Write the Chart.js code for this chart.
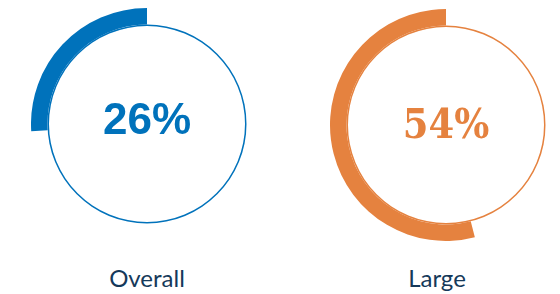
<!DOCTYPE html>
<html>
<head>
<meta charset="utf-8">
<script src="https://cdn.jsdelivr.net/npm/chart.js@4"></script>
<style>
  html, body { margin: 0; padding: 0; background: #fff; }
  body { width: 560px; height: 294px; position: relative; overflow: hidden; }
  .ring { position: absolute; width: 232px; height: 232px; }
  .label {
    position: absolute; width: 200px; text-align: center;
    font-family: Lato, "Open Sans", sans-serif; font-size: 24px; line-height: 24px;
    color: #15395a;
  }
</style>
</head>
<body>
<canvas id="ring0" class="ring" width="232" height="232" style="left:31px;top:8px"></canvas>
<canvas id="ring1" class="ring" width="232" height="232" style="left:330px;top:9px"></canvas>
<div id="label0" class="label" style="left:47px;top:266px"></div>
<div id="label1" class="label" style="left:337px;top:266px"></div>
<script>
// values
const categories = ["Overall", "Large"];
const percents = [26, 54];
const colors = ["#0072bb", "#e5823f"];
const centerFonts = [
  "bold 44px 'Liberation Sans', Arial, sans-serif",
  "bold 41px 'DejaVu Serif', serif",
];
const centerStretch = ["normal", "condensed"];

// draws the big percentage in the middle of the ring
const centerText = {
  id: "centerText",
  afterDraw(chart, args, opts) {
    const arc = chart.getDatasetMeta(0).data[0];
    const ctx = chart.ctx;
    ctx.save();
    ctx.font = opts.font;
    if ("fontStretch" in ctx) ctx.fontStretch = opts.stretch;
    ctx.fillStyle = opts.color;
    ctx.textAlign = "center";
    ctx.textBaseline = "middle";
    ctx.fillText(opts.text, arc.x, arc.y + opts.dy);
    ctx.restore();
  },
};

categories.forEach((cat, i) => {
  const p = percents[i];
  document.getElementById("label" + i).textContent = cat;
  new Chart(document.getElementById("ring" + i), {
    type: "doughnut",
    data: {
      labels: ["rest", cat],
      datasets: [
        {
          // thick arc, ends at 12 o'clock so it runs counterclockwise from the top
          data: [100 - p, p],
          backgroundColor: ["rgba(0,0,0,0)", colors[i]],
          borderWidth: 0,
          weight: 16.5,
        },
        {
          // thin full circle
          data: [100],
          backgroundColor: [colors[i]],
          borderWidth: 0,
          weight: 1.5,
        },
      ],
    },
    options: {
      responsive: false,
      animation: false,
      cutout: 98,
      layout: { padding: 0 },
      plugins: {
        legend: { display: false },
        tooltip: { enabled: false },
        centerText: {
          text: p + "%", font: centerFonts[i], stretch: centerStretch[i],
          color: colors[i], dy: i === 0 ? -2 : 2,
        },
      },
    },
    plugins: [centerText],
  });
});
</script>
</body>
</html>
